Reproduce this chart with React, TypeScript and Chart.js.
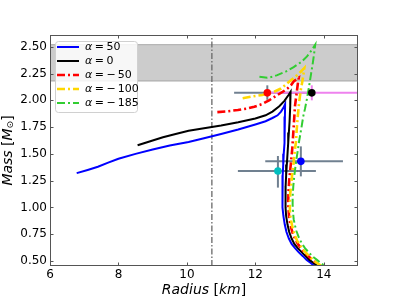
import React, { useEffect, useRef } from 'react';
import { Chart, registerables } from 'chart.js';
Chart.register(...registerables);

// ---- axis ticks ----
const xTicks = [6, 8, 10, 12, 14];
const yTicks = [0.5, 0.75, 1.0, 1.25, 1.5, 1.75, 2.0, 2.25, 2.5];

// ---- model curves (Radius km, Mass Msun) ----
const alphaValues = [50, 0, -50, -100, -185];

const radiusA50 = [6.78, 7.1, 7.4, 7.7, 8.0, 8.5, 9.0, 9.5, 10.05, 10.5, 11.0, 11.5, 12.0, 12.3, 12.5, 12.65, 12.75, 12.82, 12.87,
  12.865, 12.86, 12.845, 12.83, 12.815, 12.8, 12.79, 12.79, 12.8, 12.82, 12.86, 12.91, 12.98, 13.06, 13.16, 13.27, 13.39, 13.5, 13.6, 13.7, 13.85];
const massA50 = [1.32, 1.35, 1.38, 1.418, 1.455, 1.5, 1.54, 1.578, 1.61, 1.645, 1.685, 1.728, 1.775, 1.805, 1.835, 1.86, 1.895, 1.93, 1.965,
  1.85, 1.7, 1.6, 1.5, 1.4, 1.3, 1.2, 1.1, 1.0, 0.92, 0.84, 0.77, 0.71, 0.66, 0.62, 0.58, 0.545, 0.51, 0.485, 0.46, 0.43];

const radiusA0 = [8.56, 8.7, 9.0, 9.3, 9.7, 10.05, 10.5, 11.0, 11.5, 12.0, 12.3, 12.5, 12.7, 12.85, 12.97, 13.03,
  13.02, 13.0, 12.98, 12.96, 12.94, 12.92, 12.9, 12.885, 12.88, 12.885, 12.9, 12.94, 12.99, 13.06, 13.14, 13.24, 13.36, 13.47, 13.58, 13.68, 13.79, 13.93];
const massA0 = [1.58, 1.595, 1.625, 1.655, 1.688, 1.715, 1.74, 1.765, 1.795, 1.83, 1.86, 1.895, 1.945, 1.995, 2.05, 2.08,
  1.95, 1.8, 1.7, 1.6, 1.5, 1.4, 1.3, 1.2, 1.1, 1.0, 0.92, 0.84, 0.77, 0.71, 0.66, 0.62, 0.58, 0.545, 0.51, 0.485, 0.46, 0.43];

const radiusAm50 = [10.89, 11.2, 11.49, 11.75, 11.97, 12.2, 12.4, 12.65, 12.8, 12.94, 13.05, 13.13, 13.27,
  13.24, 13.2, 13.16, 13.14, 13.12, 13.1, 13.08, 13.05, 13.02, 12.99, 12.97, 12.96, 12.97, 12.99, 13.03, 13.09, 13.17, 13.26, 13.38, 13.5, 13.63, 13.74, 13.85, 13.97];
const massAm50 = [1.89, 1.898, 1.91, 1.923, 1.94, 1.965, 2.0, 2.05, 2.08, 2.11, 2.145, 2.18, 2.21,
  2.15, 2.05, 1.95, 1.85, 1.75, 1.65, 1.55, 1.45, 1.35, 1.25, 1.15, 1.06, 0.98, 0.9, 0.83, 0.76, 0.7, 0.65, 0.6, 0.56, 0.52, 0.49, 0.46, 0.43];

const radiusAm100 = [11.63, 11.9, 12.2, 12.4, 12.55, 12.75, 12.9, 13.05, 13.2, 13.32, 13.43,
  13.4, 13.37, 13.33, 13.3, 13.27, 13.24, 13.21, 13.19, 13.15, 13.12, 13.08, 13.05, 13.02, 13.01, 13.01, 13.03, 13.08, 13.14, 13.22, 13.32, 13.44, 13.56, 13.68, 13.79, 13.9, 14.03];
const massAm100 = [2.02, 2.035, 2.05, 2.065, 2.08, 2.11, 2.15, 2.19, 2.23, 2.265, 2.3,
  2.23, 2.17, 2.1, 2.03, 1.95, 1.85, 1.73, 1.62, 1.52, 1.42, 1.32, 1.22, 1.13, 1.05, 0.97, 0.9, 0.82, 0.75, 0.69, 0.64, 0.59, 0.55, 0.51, 0.485, 0.46, 0.43];

const radiusAm185 = [12.12, 12.35, 12.5, 12.64, 12.9, 13.12, 13.35, 13.51, 13.65, 13.75,
  13.72, 13.68, 13.63, 13.58, 13.5, 13.45, 13.4, 13.34, 13.28, 13.23, 13.18, 13.14, 13.11, 13.09, 13.09, 13.1, 13.12, 13.16, 13.2, 13.27, 13.35, 13.45, 13.56, 13.68, 13.8, 13.9, 14.0, 14.13];
const massAm185 = [2.22, 2.21, 2.22, 2.235, 2.27, 2.31, 2.36, 2.41, 2.47, 2.52,
  2.44, 2.35, 2.25, 2.15, 2.0, 1.92, 1.85, 1.73, 1.62, 1.51, 1.4, 1.3, 1.2, 1.1, 1.03, 0.96, 0.89, 0.83, 0.78, 0.72, 0.67, 0.62, 0.58, 0.54, 0.51, 0.485, 0.46, 0.43];

const curveColors = ['#0000ff', '#000000', '#ff0000', '#ffd700', '#32cd32'];
const curveWidths = [2, 2, 2.6, 2.6, 2];
const curveDashed = [false, false, true, true, true];

// ---- observations ----
const obsR = [12.35, 13.65, 13.33, 12.66];
const obsM = [2.07, 2.07, 1.43, 1.34];
const obsRLow = [11.38, 12.4, 12.29, 11.49];
const obsRHigh = [13.69, 16.3, 14.56, 13.77];
const obsMLow = [2.005, 2.0, 1.29, 1.185];
const obsMHigh = [2.14, 2.14, 1.57, 1.48];
const obsPointColors = ['#ff0000', '#000000', '#0000ff', '#00bfbf'];
const obsBarColors = ['#708090', '#ee82ee', '#708090', '#708090'];

// ---- band & vertical line ----
const bandLow = 2.18;
const bandHigh = 2.52;
const vLineR = 10.73;

const X_MIN = 6, X_MAX = 15, Y_MIN = 0.453, Y_MAX = 2.61;
const FONT = "'DejaVu Sans', sans-serif";

function drawSegments(ctx: CanvasRenderingContext2D, segs: any[], cx: number, cy: number) {
  let total = 0;
  const widths = segs.map((s) => { ctx.font = s.f; const w = ctx.measureText(s.t).width; total += w; return w; });
  let x = cx - total / 2;
  segs.forEach((s, i) => {
    ctx.font = s.f;
    ctx.fillText(s.t, x, cy + (s.dy || 0));
    x += widths[i];
  });
}

function labelFor(v: number) {
  return v < 0 ? `α = −${Math.abs(v)}` : `α = ${v}`;
}

const decorPlugin = {
  id: 'decor',
  afterDatasetsDraw(chart: any) {
    const { ctx, chartArea: a, scales } = chart;
    ctx.save();
    // frame
    ctx.strokeStyle = '#555';
    ctx.lineWidth = 1;
    ctx.strokeRect(a.left + 0.5, a.top + 0.5, a.right - a.left - 1, a.bottom - a.top - 1);
    // inward ticks on all sides
    ctx.beginPath();
    const tl = 3.5;
    xTicks.forEach((v) => {
      const px = Math.round(scales.x.getPixelForValue(v)) + 0.5;
      ctx.moveTo(px, a.bottom); ctx.lineTo(px, a.bottom - tl);
      ctx.moveTo(px, a.top); ctx.lineTo(px, a.top + tl);
    });
    yTicks.forEach((v) => {
      const py = Math.round(scales.y.getPixelForValue(v)) + 0.5;
      ctx.moveTo(a.left, py); ctx.lineTo(a.left + tl, py);
      ctx.moveTo(a.right, py); ctx.lineTo(a.right - tl, py);
    });
    ctx.stroke();

    // legend
    const lx = 55, ly = 41, lw = 82, lh = 71;
    ctx.beginPath();
    if (ctx.roundRect) ctx.roundRect(lx + 0.5, ly + 0.5, lw, lh, 3); else ctx.rect(lx + 0.5, ly + 0.5, lw, lh);
    ctx.fillStyle = 'rgba(255,255,255,0.85)';
    ctx.fill();
    ctx.strokeStyle = '#d0d0d0';
    ctx.lineWidth = 1;
    ctx.stroke();
    const curveSets = chart.data.datasets.filter((d: any) => d.isCurve);
    curveSets.forEach((d: any, i: number) => {
      const y = 47 + i * 14;
      ctx.beginPath();
      ctx.setLineDash(d.borderDash || []);
      ctx.strokeStyle = d.borderColor;
      ctx.lineWidth = d.borderWidth;
      ctx.moveTo(57, y); ctx.lineTo(79, y);
      ctx.stroke();
      ctx.setLineDash([]);
      ctx.fillStyle = '#000';
      ctx.textBaseline = 'middle';
      ctx.textAlign = 'left';
      const rest = d.label.slice(1).trim();
      const parts = rest.split(' ');
      let x = 85;
      ctx.font = `italic 11px ${FONT}`;
      ctx.fillText('α', x, y);
      x += ctx.measureText('α').width + 2.5;
      ctx.font = `11px ${FONT}`;
      ctx.fillText(parts[0], x, y);
      x += ctx.measureText(parts[0]).width + 2.5;
      let num = parts[1];
      if (num.startsWith('−')) {
        ctx.fillText('−', x, y);
        x += ctx.measureText('−').width + 2;
        num = num.slice(1);
      }
      ctx.fillText(num, x, y);
    });

    // axis titles
    ctx.fillStyle = '#000';
    ctx.textAlign = 'left';
    ctx.textBaseline = 'middle';
    const cx = (a.left + a.right) / 2;
    drawSegments(ctx, [
      { t: 'Radius', f: `italic 14px ${FONT}` },
      { t: ' [', f: `14px ${FONT}` },
      { t: 'km', f: `italic 14px ${FONT}` },
      { t: ']', f: `14px ${FONT}` },
    ], cx, 290);
    ctx.save();
    ctx.translate(8, (a.top + a.bottom) / 2);
    ctx.rotate(-Math.PI / 2);
    drawSegments(ctx, [
      { t: 'Mass', f: `italic 14px ${FONT}` },
      { t: ' [', f: `14px ${FONT}` },
      { t: 'M', f: `italic 14px ${FONT}` },
      { t: '⊙', f: `9px ${FONT}`, dy: 3 },
      { t: ']', f: `14px ${FONT}` },
    ], 0, 0);
    ctx.restore();
    ctx.restore();
  },
};

export default function App() {
  const ref = useRef<HTMLCanvasElement | null>(null);
  useEffect(() => {
    if (!ref.current) return;
    const radii = [radiusA50, radiusA0, radiusAm50, radiusAm100, radiusAm185];
    const masses = [massA50, massA0, massAm50, massAm100, massAm185];
    const datasets: any[] = [];

    datasets.push({
      label: 'band', data: [{ x: X_MIN, y: bandHigh }, { x: X_MAX, y: bandHigh }],
      borderColor: 'rgba(128,128,128,0.6)', borderWidth: 1,
      backgroundColor: 'rgba(128,128,128,0.4)', fill: { value: bandLow },
      showLine: true, pointRadius: 0, order: 20,
    });
    datasets.push({
      label: 'band-low', data: [{ x: X_MIN, y: bandLow }, { x: X_MAX, y: bandLow }],
      borderColor: 'rgba(128,128,128,0.6)', borderWidth: 1, fill: false,
      showLine: true, pointRadius: 0, order: 19,
    });
    datasets.push({
      label: 'vline', data: [{ x: vLineR, y: Y_MIN }, { x: vLineR, y: Y_MAX }],
      borderColor: '#696969', borderWidth: 1.3, borderDash: [6, 2, 1.5, 2],
      showLine: true, pointRadius: 0, fill: false, order: 18,
    });
    obsR.forEach((r, i) => {
      datasets.push({
        label: 'xerr' + i, data: [{ x: obsRLow[i], y: obsM[i] }, { x: obsRHigh[i], y: obsM[i] }],
        borderColor: obsBarColors[i], borderWidth: 2, showLine: true, pointRadius: 0, fill: false,
        order: 15 - i * 0.1,
      });
      datasets.push({
        label: 'yerr' + i, data: [{ x: r, y: obsMLow[i] }, { x: r, y: obsMHigh[i] }],
        borderColor: obsBarColors[i], borderWidth: 2, showLine: true, pointRadius: 0, fill: false,
        order: 15 - i * 0.1,
      });
    });
    alphaValues.forEach((v, i) => {
      datasets.push({
        label: labelFor(v), isCurve: true,
        data: radii[i].map((r, k) => ({ x: r, y: masses[i][k] })),
        borderColor: curveColors[i], backgroundColor: curveColors[i],
        borderWidth: curveWidths[i], borderDash: curveDashed[i] ? [8, 3, 2, 3] : [],
        showLine: true, pointRadius: 0, fill: false, tension: 0,
        order: 10 - i,
      });
    });
    obsR.forEach((r, i) => {
      datasets.push({
        label: 'pt' + i, data: [{ x: r, y: obsM[i] }],
        pointRadius: 3.8, pointBackgroundColor: obsPointColors[i], pointBorderColor: obsPointColors[i],
        pointBorderWidth: 0, showLine: false, order: 1,
      });
    });

    const chart = new Chart(ref.current, {
      type: 'scatter',
      data: { datasets },
      options: {
        animation: false,
        responsive: false,
        devicePixelRatio: 1,
        layout: { padding: { left: 0, right: 41, top: 35, bottom: 0 } },
        plugins: { legend: { display: false }, tooltip: { enabled: false } },
        scales: {
          x: {
            type: 'linear', min: X_MIN, max: X_MAX,
            grid: { display: false, drawTicks: false },
            border: { display: false },
            afterBuildTicks: (sc: any) => { sc.ticks = xTicks.map((value) => ({ value })); },
            afterFit: (sc: any) => { sc.height = 33; },
            ticks: { color: '#000', font: { family: FONT, size: 12 }, padding: 2, maxRotation: 0, autoSkip: false },
          },
          y: {
            type: 'linear', min: Y_MIN, max: Y_MAX,
            grid: { display: false, drawTicks: false },
            border: { display: false },
            afterBuildTicks: (sc: any) => { sc.ticks = yTicks.map((value) => ({ value })); },
            afterFit: (sc: any) => { sc.width = 50; },
            ticks: {
              color: '#000', font: { family: FONT, size: 12 }, padding: 3, autoSkip: false,
              callback: (v: any) => Number(v).toFixed(2),
            },
          },
        },
      },
      plugins: [decorPlugin],
    } as any);
    return () => chart.destroy();
  }, []);
  return (
    <div style={{ position: 'fixed', left: 0, top: 0, width: 399, height: 299, background: '#fff' }}>
      <canvas ref={ref} width={399} height={299} style={{ width: 399, height: 299, display: 'block' }} />
    </div>
  );
}
